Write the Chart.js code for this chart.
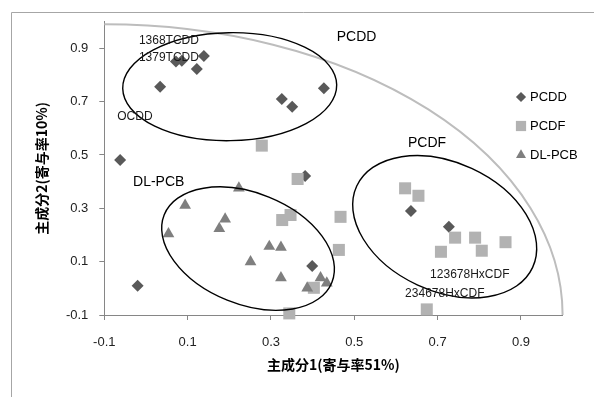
<!DOCTYPE html>
<html lang="ja">
<head>
<meta charset="UTF-8">
<title>主成分分析 PCDD / PCDF / DL-PCB</title>
<script src="https://cdn.jsdelivr.net/npm/chart.js"></script>
<style>
  html, body { margin: 0; padding: 0; background: #fff; }
  #wrap { width: 594px; height: 397px; }
</style>
</head>
<body>
<div id="wrap"><canvas id="pca" width="594" height="397"></canvas></div>
<script>
// tick positions
const xTicks = [-0.1, 0.1, 0.3, 0.5, 0.7, 0.9];
const yTicks = [-0.1, 0.1, 0.3, 0.5, 0.7, 0.9];

// PCDD (diamonds)
const pcddX = [0.034, 0.072, 0.086, 0.122, 0.139, 0.326, 0.351, 0.427, -0.062, -0.020, 0.382, 0.399, 0.636, 0.727];
const pcddY = [0.756, 0.850, 0.853, 0.822, 0.871, 0.710, 0.681, 0.750, 0.481, 0.010, 0.421, 0.084, 0.290, 0.231];

// PCDF (squares)
const pcdfX = [0.278, 0.364, 0.327, 0.347, 0.467, 0.463, 0.403, 0.344, 0.622, 0.654, 0.742, 0.790, 0.708, 0.806, 0.863, 0.674];
const pcdfY = [0.535, 0.410, 0.256, 0.275, 0.268, 0.144, 0.002, -0.094, 0.375, 0.347, 0.190, 0.190, 0.137, 0.141, 0.173, -0.079];

// DL-PCB (triangles)
const pcbX = [0.094, 0.054, 0.176, 0.190, 0.223, 0.296, 0.324, 0.251, 0.324, 0.387, 0.419, 0.434];
const pcbY = [0.311, 0.204, 0.224, 0.260, 0.376, 0.157, 0.154, 0.099, 0.039, 0.001, 0.039, 0.020];

// text labels placed in data coordinates (left edge, middle)
const labelText = ["1368TCDD", "1379TCDD", "OCDD", "PCDD", "DL-PCB", "PCDF", "123678HxCDF", "234678HxCDF"];
const labelX = [-0.017, -0.017, -0.069, 0.458, -0.031, 0.629, 0.682, 0.622];
const labelY = [0.930, 0.866, 0.642, 0.942, 0.399, 0.545, 0.050, -0.021];
const labelBig = [false, false, false, true, true, true, false, false];

// group ellipses: centre in data units, semi axes in px, tilt in degrees
const ellipses = [
  { cx: 0.201, cy: 0.756, a: 107, b: 54, rot: -1 },
  { cx: 0.245, cy: 0.149, a: 90.4, b: 55.6, rot: 22 },
  { cx: 0.717, cy: 0.231, a: 96.9, b: 64.3, rot: 24.8 }
];

const seriesNames = ["PCDD", "PCDF", "DL-PCB"];
const seriesColors = ["#595959", "#b2b2b2", "#7f7f7f"];
const seriesStyles = ["rectRot", "rect", "triangle"];
const seriesRadius = [6, 8.5, 6.8];

function toPoints(xs, ys) {
  return xs.map((x, i) => ({ x: x, y: ys[i] }));
}

const axisGray = "#868686";
const tickFont = { family: "'Liberation Sans', Arial, sans-serif", size: 13 };
const titleFont = { family: "'Noto Sans CJK JP', 'Liberation Sans', sans-serif", size: 14, weight: "bold" };

const decorations = {
  id: "decorations",
  beforeDraw(chart) {
    const ctx = chart.ctx;
    ctx.save();
    ctx.strokeStyle = "#a6a6a6";
    ctx.lineWidth = 1;
    ctx.beginPath();
    ctx.moveTo(11.5, 400);
    ctx.lineTo(11.5, 12.5);
    ctx.lineTo(600, 12.5);
    ctx.stroke();
    ctx.restore();
  },
  afterDatasetsDraw(chart) {
    const ctx = chart.ctx;
    const xs = chart.scales.x, ys = chart.scales.y;
    ctx.save();

    // loading circle (radius 1.1 from the lower-left corner)
    const ox = xs.getPixelForValue(-0.1), oy = ys.getPixelForValue(-0.1);
    const rx = xs.getPixelForValue(1.0) - ox;
    const ry = oy - ys.getPixelForValue(0.99);
    ctx.strokeStyle = "#bdbdbd";
    ctx.lineWidth = 2;
    ctx.beginPath();
    ctx.ellipse(ox, oy, rx, ry, 0, -Math.PI / 2, 0);
    ctx.stroke();

    // cluster ellipses
    ctx.strokeStyle = "#000";
    ctx.lineWidth = 1.4;
    ellipses.forEach(e => {
      ctx.beginPath();
      ctx.ellipse(xs.getPixelForValue(e.cx), ys.getPixelForValue(e.cy), e.a, e.b, e.rot * Math.PI / 180, 0, Math.PI * 2);
      ctx.stroke();
    });

    // labels
    ctx.textAlign = "left";
    ctx.textBaseline = "middle";
    labelText.forEach((t, i) => {
      ctx.fillStyle = labelBig[i] ? "#000" : "#1a1a1a";
      ctx.font = (labelBig[i] ? "14px" : "12px") + " 'Liberation Sans', Arial, sans-serif";
      ctx.fillText(t, xs.getPixelForValue(labelX[i]), ys.getPixelForValue(labelY[i]));
    });
    ctx.restore();
  },
  afterDraw(chart) {
    // legend on the right
    const ctx = chart.ctx;
    ctx.save();
    ctx.font = "13px 'Liberation Sans', Arial, sans-serif";
    ctx.textAlign = "left";
    ctx.textBaseline = "middle";
    seriesNames.forEach((name, i) => {
      const y = 97 + i * 29;
      ctx.fillStyle = seriesColors[i];
      Chart.helpers.drawPoint(ctx, { pointStyle: seriesStyles[i], radius: seriesRadius[i] * 0.85, borderWidth: 0 }, 521, y);
      ctx.fillStyle = "#000";
      ctx.fillText(name, 530, y);
    });
    ctx.restore();
  }
};

function makeSet(i, xs, ys, order) {
  return {
    label: seriesNames[i],
    data: toPoints(xs, ys),
    pointStyle: seriesStyles[i],
    pointRadius: seriesRadius[i],
    pointHoverRadius: seriesRadius[i],
    backgroundColor: seriesColors[i],
    borderColor: seriesColors[i],
    pointBorderWidth: 0,
    borderWidth: 0,
    clip: false,
    order: order
  };
}

new Chart(document.getElementById("pca"), {
  type: "scatter",
  data: {
    datasets: [
      makeSet(0, pcddX, pcddY, 3),
      makeSet(1, pcdfX, pcdfY, 2),
      makeSet(2, pcbX, pcbY, 1)
    ]
  },
  options: {
    responsive: false,
    devicePixelRatio: 1,
    animation: false,
    layout: { padding: { left: 0, top: 21.6, right: 31.4, bottom: 0 } },
    plugins: {
      legend: { display: false },
      tooltip: { enabled: false }
    },
    scales: {
      x: {
        type: "linear",
        min: -0.1,
        max: 1.0,
        afterFit(scale) { scale.height = 82; },
        afterBuildTicks(scale) { scale.ticks = xTicks.map(v => ({ value: v })); },
        ticks: {
          font: tickFont,
          color: "#222",
          padding: 15,
          callback: v => v.toFixed(1)
        },
        grid: { drawOnChartArea: false, drawTicks: true, tickLength: 5, color: axisGray },
        border: { color: axisGray, width: 1 },
        title: {
          display: true,
          text: "主成分1(寄与率51%)",
          font: titleFont,
          color: "#000",
          padding: { top: 0, bottom: 24 }
        }
      },
      y: {
        type: "linear",
        min: -0.1,
        max: 1.0,
        afterFit(scale) { scale.width = 104.3; },
        afterBuildTicks(scale) { scale.ticks = yTicks.map(v => ({ value: v })); },
        ticks: {
          font: tickFont,
          color: "#222",
          padding: 11,
          callback: v => v.toFixed(1)
        },
        grid: { drawOnChartArea: false, drawTicks: true, tickLength: 5, color: axisGray },
        border: { color: axisGray, width: 1 },
        title: {
          display: true,
          text: "主成分2(寄与率10%)",
          font: titleFont,
          color: "#000",
          padding: { top: 33, bottom: 0 }
        }
      }
    }
  },
  plugins: [decorations]
});
</script>
</body>
</html>
